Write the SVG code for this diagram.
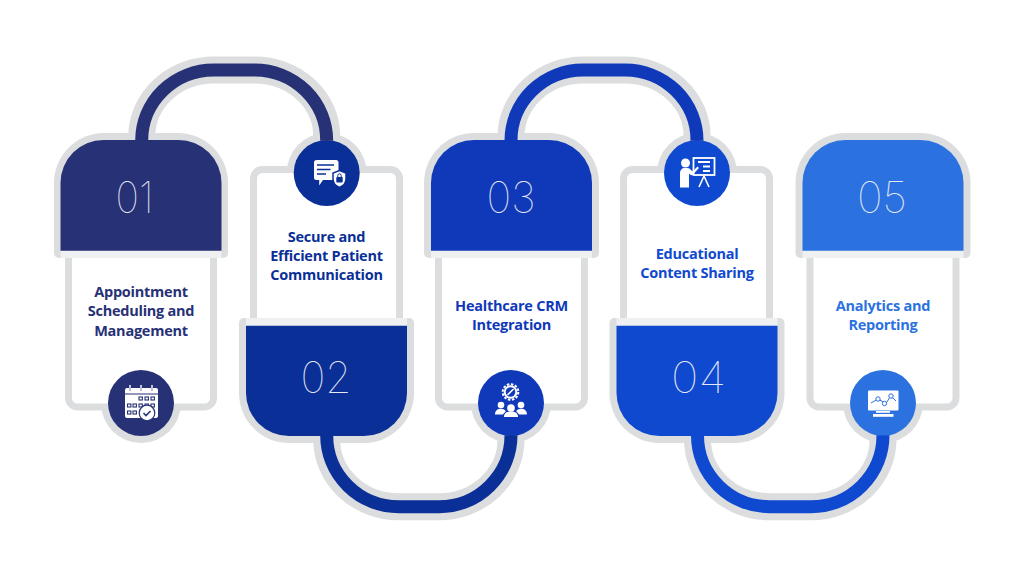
<svg xmlns="http://www.w3.org/2000/svg" width="1024" height="576" viewBox="0 0 1024 576">
<style>
  .halo{fill:#dcddde}
  .band{fill:#eef0f1}
  .card{fill:#fff;stroke:#dcddde;stroke-width:7}
  .halo-line{fill:none;stroke:#dcddde;stroke-width:27}
  .line{fill:none;stroke-width:13}
  .num{font-family:"Inter","Lato",sans-serif;font-weight:100;font-size:44px;fill:#e6e9f4;text-anchor:middle}
  .label{font-family:"Open Sans","Liberation Sans",sans-serif;font-weight:700;font-size:14.5px;text-anchor:middle;letter-spacing:-.25px}
  .ic{fill:#fff}
</style>
<rect width="1024" height="576" fill="#fff"/>

<g id="node-1">
  <circle class="halo" cx="141" cy="403" r="40"/>
  <rect class="card" x="68.500" y="245" width="145" height="162" rx="9"/>
  <path class="halo" d="M54 253V183a50 50 0 0 1 50-50h74a50 50 0 0 1 50 50v70a5 5 0 0 1-5 5H59a5 5 0 0 1-5-5z"/>
  <rect class="band" x="60.500" y="250" width="161" height="8"/>
  <path fill="#273176" d="M60.500 250.700V183a43 43 0 0 1 43-43h75a43 43 0 0 1 43 43v67.700z"/>
  <text class="num" x="134.500" y="213" textLength="38" lengthAdjust="spacingAndGlyphs">01</text>
  <text class="label" fill="#273176"><tspan x="141" y="297">Appointment</tspan><tspan x="141" y="316.300">Scheduling and</tspan><tspan x="141" y="335.600">Management</tspan></text>
  <circle cx="141" cy="403" r="33" fill="#273176"/>
  <g>
    <rect class="ic" x="125" y="388" width="33" height="30" rx="2"/>
    <path d="M125 394h33" stroke="#273176" fill="none"/>
    <path d="M130 386v5M141 386v5M152 386v5" stroke="#fff" stroke-width="2" stroke-linecap="round"/>
    <path d="M130 386v5M141 386v5M152 386v5" stroke="#273176" stroke-width=".6"/>
    <g fill="none" stroke="#273176" stroke-width="1.100">
      <rect x="139" y="397" width="3.400" height="3"/><rect x="145" y="397" width="3.400" height="3"/><rect x="151" y="397" width="3.400" height="3"/>
      <rect x="127.500" y="404" width="3.400" height="3"/><rect x="133" y="404" width="3.400" height="3"/><rect x="139" y="404" width="3.400" height="3"/><rect x="145" y="404" width="3.400" height="3"/><rect x="151" y="404" width="3.400" height="3"/>
      <rect x="127.500" y="411" width="3.400" height="3"/><rect x="133" y="411" width="3.400" height="3"/>
    </g>
    <circle cx="147" cy="413" r="7.800" fill="#fff" stroke="#273176" stroke-width="1.200"/>
    <path d="M143.500 413l2.500 2.500 4.500-4.500" fill="none" stroke="#273176" stroke-width="1.600"/>
  </g>
</g>

<g id="node-2">
  <circle class="halo" cx="326.700" cy="173" r="40"/>
  <rect class="card" x="253.500" y="169.500" width="146" height="160" rx="9"/>
  <path class="halo" d="M239 323a5 5 0 0 1 5-5h165a5 5 0 0 1 5 5v70a50 50 0 0 1-50 50h-75a50 50 0 0 1-50-50z"/>
  <rect class="band" x="246" y="318" width="161" height="8"/>
  <path fill="#0a2f96" d="M246 325.700h161V393a43 43 0 0 1-43 43h-75a43 43 0 0 1-43-43z"/>
  <text class="num" x="326" y="393" textLength="51" lengthAdjust="spacingAndGlyphs">02</text>
  <text class="label" fill="#0a2f96"><tspan x="326.500" y="241.800">Secure and</tspan><tspan x="326.500" y="261">Efficient Patient</tspan><tspan x="326.500" y="280.200">Communication</tspan></text>
  <circle cx="326.700" cy="173" r="33" fill="#0a2f96"/>
  <g>
    <path class="ic" d="M316.500 160h19.500a2.500 2.500 0 0 1 2.500 2.500v15a2.500 2.500 0 0 1-2.500 2.500h-13l-3.800 5.500v-5.500h-2.700a2.500 2.500 0 0 1-2.500-2.500v-15a2.500 2.500 0 0 1 2.500-2.500z"/>
    <path d="M317 165h17M317 169.500h13.500M317 174h9" stroke="#0a2f96" stroke-width="1.300" fill="none"/>
    <path class="ic" stroke="#0a2f96" stroke-width="1.500" d="M339.500 170.500l6.500 2.500v6c0 4-3 7-6.500 8.500-3.500-1.500-6.500-4.500-6.500-8.500v-6z"/>
    <rect x="336.300" y="177" width="6.400" height="5.500" rx=".8" fill="#0a2f96"/>
    <path d="M337.800 177v-1.500a1.700 1.700 0 0 1 3.400 0v1.500" fill="none" stroke="#0a2f96" stroke-width="1"/>
  </g>
</g>

<g id="node-3">
  <circle class="halo" cx="511" cy="403" r="40"/>
  <rect class="card" x="438.500" y="245" width="146" height="162" rx="9"/>
  <path class="halo" d="M424 253V183a50 50 0 0 1 50-50h75a50 50 0 0 1 50 50v70a5 5 0 0 1-5 5H429a5 5 0 0 1-5-5z"/>
  <rect class="band" x="431" y="250" width="161" height="8"/>
  <path fill="#1039b9" d="M431 250.700V183a43 43 0 0 1 43-43h75a43 43 0 0 1 43 43v67.700z"/>
  <text class="num" x="511" y="213" textLength="49" lengthAdjust="spacingAndGlyphs">03</text>
  <text class="label" fill="#1039b9"><tspan x="511.500" y="311">Healthcare CRM</tspan><tspan x="511.500" y="330.300">Integration</tspan></text>
  <circle cx="511" cy="403" r="33" fill="#1039b9"/>
  <g>
    <circle cx="510.500" cy="392" r="5.800" fill="none" stroke="#fff" stroke-width="2"/>
    <circle cx="510.500" cy="392" r="7.800" fill="none" stroke="#fff" stroke-width="2" stroke-dasharray="2.500 1.600"/>
    <path d="M508 394.500l5-5" stroke="#fff" stroke-width="1.600" stroke-linecap="round"/>
    <circle class="ic" cx="501" cy="405" r="3.300"/><circle class="ic" cx="521" cy="405" r="3.300"/>
    <path class="ic" d="M495 414.500c0-4 2.500-5.800 6-5.800 2.500 0 4 1 4.800 2.600l-3 3.200zM527 414.500c0-4-2.500-5.800-6-5.800-2.500 0-4 1-4.800 2.600l3 3.200z"/>
    <circle class="ic" cx="511" cy="408" r="3.800"/>
    <path class="ic" d="M504 417c0-4 2.800-5.500 7-5.500s7 1.500 7 5.500z"/>
  </g>
</g>

<g id="node-4">
  <circle class="halo" cx="697" cy="173" r="40"/>
  <rect class="card" x="623.500" y="169.500" width="146" height="160" rx="9"/>
  <path class="halo" d="M609.500 323a5 5 0 0 1 5-5h165a5 5 0 0 1 5 5v70a50 50 0 0 1-50 50h-75a50 50 0 0 1-50-50z"/>
  <rect class="band" x="616.500" y="318" width="161" height="8"/>
  <path fill="#0f49cf" d="M616.500 325.700h161V393a43 43 0 0 1-43 43h-75a43 43 0 0 1-43-43z"/>
  <text class="num" x="698.500" y="393" textLength="55" lengthAdjust="spacingAndGlyphs">04</text>
  <text class="label" fill="#0f49cf"><tspan x="697" y="258.500">Educational</tspan><tspan x="697" y="277.800">Content Sharing</tspan></text>
  <circle cx="697" cy="173" r="33" fill="#0f49cf"/>
  <g>
    <rect x="693.500" y="158" width="21" height="17" fill="none" stroke="#fff" stroke-width="1.800"/>
    <path d="M698 162h12M703 166.500h7M703 171h7" stroke="#fff" stroke-width="1.800" fill="none"/>
    <path d="M704 176l-5 11M704 176l5 11" stroke="#fff" stroke-width="1.600" fill="none"/>
    <circle class="ic" cx="685.500" cy="163" r="4.500"/>
    <path class="ic" d="M680 173c0-3 2-5 4.500-5h3c1 0 1.800.3 2.500 1l2.500 2.500 5-5 1.500 1.500-6.500 7-1.500.3-2-1.500V187.500H680z"/>
  </g>
</g>

<g id="node-5">
  <circle class="halo" cx="883" cy="403" r="40"/>
  <rect class="card" x="810" y="245" width="146" height="162" rx="9"/>
  <path class="halo" d="M795.500 253V183a50 50 0 0 1 50-50h75a50 50 0 0 1 50 50v70a5 5 0 0 1-5 5h-165a5 5 0 0 1-5-5z"/>
  <rect class="band" x="802.500" y="250" width="161" height="8"/>
  <path fill="#2b72e0" d="M802.500 250.700V183a43 43 0 0 1 43-43h75a43 43 0 0 1 43 43v67.700z"/>
  <text class="num" x="882" y="213" textLength="50" lengthAdjust="spacingAndGlyphs">05</text>
  <text class="label" fill="#2b72e0"><tspan x="883" y="311">Analytics and</tspan><tspan x="883" y="330.300">Reporting</tspan></text>
  <circle cx="883" cy="403" r="33" fill="#2b72e0"/>
  <g>
    <rect class="ic" x="868" y="390.500" width="30.500" height="20" rx="1"/>
    <rect class="ic" x="876" y="411" width="14" height="1.800"/>
    <rect class="ic" x="873" y="414" width="20.500" height="2.800"/>
    <path d="M871 403l6-3.500 5 1.500 3 4 5-8 3 1 3 3" fill="none" stroke="#2b72e0" stroke-width="1"/>
    <circle cx="878" cy="399" r="2.200" fill="#fff" stroke="#2b72e0"/>
    <circle cx="884.500" cy="403.500" r="2.200" fill="#fff" stroke="#2b72e0"/>
    <circle cx="891" cy="396" r="2.200" fill="#fff" stroke="#2b72e0"/>
  </g>
</g>

<!-- Links between consecutive steps: a grey casing and a coloured core -->
<g id="connectors">
  <path class="halo-line" d="M141.700 137A72 67 0 0 1 213.700 70H254.700A72 66 0 0 1 326.700 136"/>
  <path class="halo-line" d="M326.700 439.500A72 67.200 0 0 0 398.700 506.700H439A72 67.200 0 0 0 511 439.500"/>
  <path class="halo-line" d="M511 137A72 67 0 0 1 583 70H625A72 66 0 0 1 697 136"/>
  <path class="halo-line" d="M697.500 439.500A72 67.200 0 0 0 769.500 506.700H811A72 67.200 0 0 0 883 439.500"/>
  <path class="line" stroke="#273176" d="M141.700 140.500A72 70.500 0 0 1 213.700 70H254.700A72 70.650 0 0 1 326.700 140.650"/>
  <path class="line" stroke="#0a2f96" d="M326.700 435.500A72 71.200 0 0 0 398.700 506.700H439A72 71.350 0 0 0 511 435.350"/>
  <path class="line" stroke="#1039b9" d="M511 140.500A72 70.500 0 0 1 583 70H625A72 70.650 0 0 1 697 140.650"/>
  <path class="line" stroke="#0f49cf" d="M697.500 435.500A72 71.200 0 0 0 769.500 506.700H811A72 71.350 0 0 0 883 435.350"/>
</g>
</svg>
